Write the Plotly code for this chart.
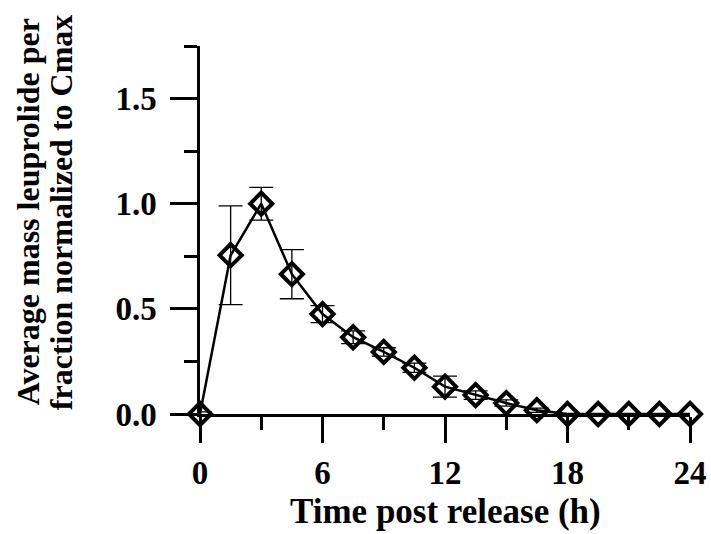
import plotly.graph_objects as go

# Data
time_h = [0, 1.5, 3, 4.5, 6, 7.5, 9, 10.5, 12, 13.5, 15, 16.5, 18, 19.5, 21, 22.5, 24]
mean_norm = [0.0, 0.755, 1.0, 0.665, 0.475, 0.365, 0.295, 0.22, 0.13, 0.09, 0.052, 0.018,
             0.0, 0.0, 0.0, 0.0, 0.0]
err_norm = [0.01, 0.235, 0.078, 0.117, 0.04, 0.03, 0.02, 0.022, 0.05, 0.02, 0.015, 0.01,
            0.0, 0.0, 0.0, 0.0, 0.0]
x_ticks = [0, 6, 12, 18, 24]
y_ticks = [0.0, 0.5, 1.0, 1.5]
y_tick_text = ["0.0", "0.5", "1.0", "1.5"]
x_title = "Time post release (h)"
y_title_lines = ["Average mass leuprolide per", "fraction normalized to Cmax"]

FONT = "Liberation Serif"

fig = go.Figure()
fig.add_trace(go.Scatter(
    x=time_h, y=mean_norm, mode="lines+markers",
    line=dict(color="black", width=2.5),
    marker=dict(symbol="diamond-open", size=17, color="black", line=dict(width=4, color="black")),
    error_y=dict(type="data", array=err_norm, visible=True, color="black", thickness=1.3, width=12),
    cliponaxis=False, showlegend=False,
))

axis_font = dict(family=FONT, size=33, color="black")
fig.update_layout(
    width=711, height=534,
    margin=dict(l=200, r=21, t=46, b=120),
    paper_bgcolor="white", plot_bgcolor="white",
    font=dict(family=FONT, color="black"),
    xaxis=dict(
        range=[0, 24], tickvals=x_ticks, ticktext=["<b>" + str(v) + "</b>" for v in x_ticks],
        showline=True, linecolor="black", linewidth=2.5,
        ticks="outside", ticklen=26, tickwidth=2.5, tickcolor="black",
        minor=dict(ticks="outside", ticklen=13, tickwidth=2.5, tickcolor="black", tickvals=[3, 9, 15, 21]),
        showgrid=False, zeroline=False, automargin=False,
        tickfont=axis_font, ticklabelstandoff=2,
    ),
    yaxis=dict(
        range=[0, 1.7501], tickvals=y_ticks, ticktext=["<b>" + t + "</b>" for t in y_tick_text],
        showline=True, linecolor="black", linewidth=2.5,
        ticks="outside", ticklen=27, tickwidth=2.5, tickcolor="black",
        minor=dict(ticks="outside", ticklen=13, tickwidth=2.5, tickcolor="black",
                   tickvals=[0.25, 0.75, 1.25, 1.75]),
        showgrid=False, zeroline=False, automargin=False,
        tickfont=axis_font, ticklabelstandoff=7,
    ),
)

title_font = dict(family=FONT, size=35, color="black")
fig.add_annotation(text="<b>" + x_title + "</b>", xref="paper", yref="paper",
                   x=0.502, y=-0.266, xanchor="center", yanchor="middle",
                   showarrow=False, font=title_font)
for line, xp in zip(y_title_lines, [-0.351, -0.282]):
    fig.add_annotation(text="<b>" + line + "</b>", xref="paper", yref="paper",
                       x=xp, y=0.548, xanchor="center", yanchor="middle", textangle=-90,
                       showarrow=False, font=dict(family=FONT, size=32, color="black"))

fig.write_html("out.html", config={"displayModeBar": False},
               post_script="document.body.style.margin='0px';")
